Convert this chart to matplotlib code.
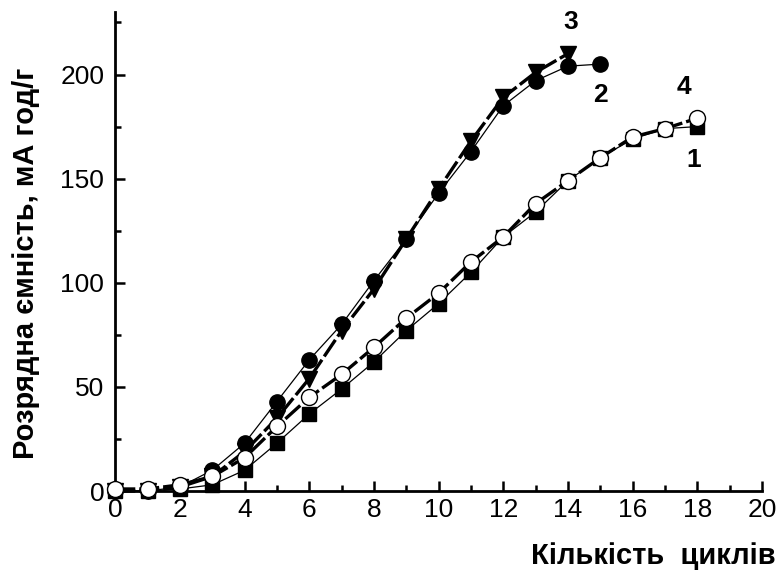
import matplotlib
matplotlib.use("Agg")
import matplotlib.pyplot as plt
from matplotlib.ticker import MultipleLocator

plt.rcParams["font.family"] = ["Liberation Sans", "DejaVu Sans"]

# cycle numbers
cycles_1 = list(range(0, 19))
cycles_2 = list(range(0, 16))
cycles_3 = list(range(0, 15))
cycles_4 = list(range(0, 19))

# discharge capacity, mA h/g
cap_1 = [0, 0, 1, 3, 10, 23, 37, 49, 62, 77, 90, 105, 122, 134, 149, 160, 169, 174, 175]
cap_2 = [0, 0, 2, 10, 23, 43, 63, 80, 101, 121, 143, 163, 185, 197, 204, 205]
cap_3 = [0, 0, 2, 7, 19, 35, 54, 77, 97, 121, 145, 168, 189, 201, 210]
cap_4 = [1, 1, 3, 7, 16, 31, 45, 56, 69, 83, 95, 110, 122, 138, 149, 160, 170, 174, 179]

curve_labels = ["1", "2", "3", "4"]
label_x = [17.9, 15.0, 14.1, 17.6]
label_y = [159, 190, 225, 194]


def main():
    fig = plt.figure(figsize=(7.79, 5.73), dpi=100)
    ax = fig.add_axes([0.148, 0.143, 0.830, 0.836])

    ax.plot(cycles_1, cap_1, color="black", lw=0.9, marker="s", ms=10,
            mfc="black", mec="black", zorder=3)
    ax.plot(cycles_2, cap_2, color="black", lw=0.9, marker="o", ms=11,
            mfc="black", mec="black", zorder=3)
    ax.plot(cycles_3, cap_3, color="black", lw=2.4, ls=(0, (6, 1.2)),
            marker="v", ms=11.5, mfc="black", mec="black", zorder=4)
    ax.plot(cycles_4, cap_4, color="black", lw=2.4, ls=(0, (6, 1.2)),
            marker="o", ms=11.5, mfc="white", mec="black", mew=1.0, zorder=5)

    for lab, x, y in zip(curve_labels, label_x, label_y):
        ax.text(x, y, lab, fontsize=19, fontweight="bold", ha="center", va="center")

    ax.set_xlim(0, 20)
    ax.set_ylim(0, 230)
    ax.xaxis.set_major_locator(MultipleLocator(2))
    ax.xaxis.set_minor_locator(MultipleLocator(1))
    ax.yaxis.set_major_locator(MultipleLocator(50))
    ax.yaxis.set_minor_locator(MultipleLocator(25))

    for side in ["top", "right"]:
        ax.spines[side].set_visible(False)
    for side in ["left", "bottom"]:
        ax.spines[side].set_linewidth(2.0)

    ax.tick_params(which="major", direction="in", length=7, width=1.8,
                   labelsize=19)
    ax.tick_params(axis="x", which="major", pad=5)
    ax.tick_params(axis="y", which="major", pad=8)
    ax.tick_params(which="minor", direction="in", length=4, width=1.8)

    fig.text(776 / 779, 1 - 556 / 573, "Кількість  циклів", fontsize=21,
             fontweight="bold", ha="right", va="center")
    fig.text(26 / 779, 1 - 263 / 573, "Розрядна ємність, мА год/г", fontsize=21,
             fontweight="bold", ha="center", va="center", rotation=90)

    for line in ax.get_lines():
        line.set_clip_on(False)

    fig.savefig("out.png", dpi=100)
    plt.close(fig)


if __name__ == "__main__":
    main()
